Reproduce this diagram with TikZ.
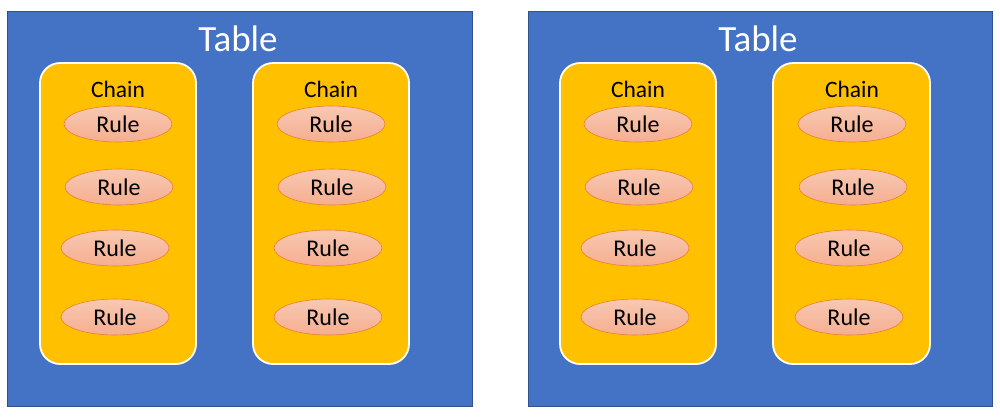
\documentclass[tikz,border=0pt]{standalone}
\usepackage{fontspec}
\setmainfont{Carlito}
\usetikzlibrary{shapes.geometric}
\definecolor{tblfill}{HTML}{4472C4}
\definecolor{tbldraw}{HTML}{2F528F}
\definecolor{chainfill}{HTML}{FFC000}
\definecolor{ruletop}{HTML}{F8C8B2}
\definecolor{rulebot}{HTML}{F5AE90}
\definecolor{ruledraw}{HTML}{ED7D31}
\begin{document}
\begin{tikzpicture}[x=1pt,y=-1pt,
  tablebox/.style={draw=tbldraw,line width=0.8pt,fill=tblfill},
  chainbox/.style={draw=white,line width=1.8pt,fill=chainfill,rounded corners=20pt},
  rulenode/.style={ellipse,draw=ruledraw,line width=0.6pt,top color=ruletop,bottom color=rulebot,minimum width=108pt,minimum height=36pt,inner sep=0pt,font=\fontsize{24}{26}\selectfont},
  tabletitle/.style={text=white,font=\fontsize{37}{40}\selectfont},
  chaintitle/.style={text=black,font=\fontsize{23.5}{26}\selectfont}]
\useasboundingbox (0,0) rectangle (1000,416);
% left table
\path[tablebox] (7,11) rectangle (472,406);
\node[tabletitle] (t1) at (238,39) {Table};
\path[chainbox] (40,63) rectangle (196,364);
\path[chainbox] (253,63) rectangle (409,364);
\node[chaintitle] (c1) at (118,89) {Chain};
\node[chaintitle] (c2) at (331,89) {Chain};
\node[rulenode] (r11) at (118,124) {Rule};
\node[rulenode] (r12) at (119,187) {Rule};
\node[rulenode] (r13) at (115,248) {Rule};
\node[rulenode] (r14) at (115,317) {Rule};
\node[rulenode] (r21) at (331,124) {Rule};
\node[rulenode] (r22) at (332,187) {Rule};
\node[rulenode] (r23) at (328,248) {Rule};
\node[rulenode] (r24) at (328,317) {Rule};
% right table
\path[tablebox] (528,11) rectangle (992,406);
\node[tabletitle] (t2) at (758,39) {Table};
\path[chainbox] (560,63) rectangle (716,364);
\path[chainbox] (773,63) rectangle (930,364);
\node[chaintitle] (c3) at (638,89) {Chain};
\node[chaintitle] (c4) at (852,89) {Chain};
\node[rulenode] (r31) at (638,124) {Rule};
\node[rulenode] (r32) at (639,187) {Rule};
\node[rulenode] (r33) at (635,248) {Rule};
\node[rulenode] (r34) at (635,317) {Rule};
\node[rulenode] (r41) at (852,124) {Rule};
\node[rulenode] (r42) at (853,187) {Rule};
\node[rulenode] (r43) at (849,248) {Rule};
\node[rulenode] (r44) at (849,317) {Rule};
\end{tikzpicture}
\end{document}
